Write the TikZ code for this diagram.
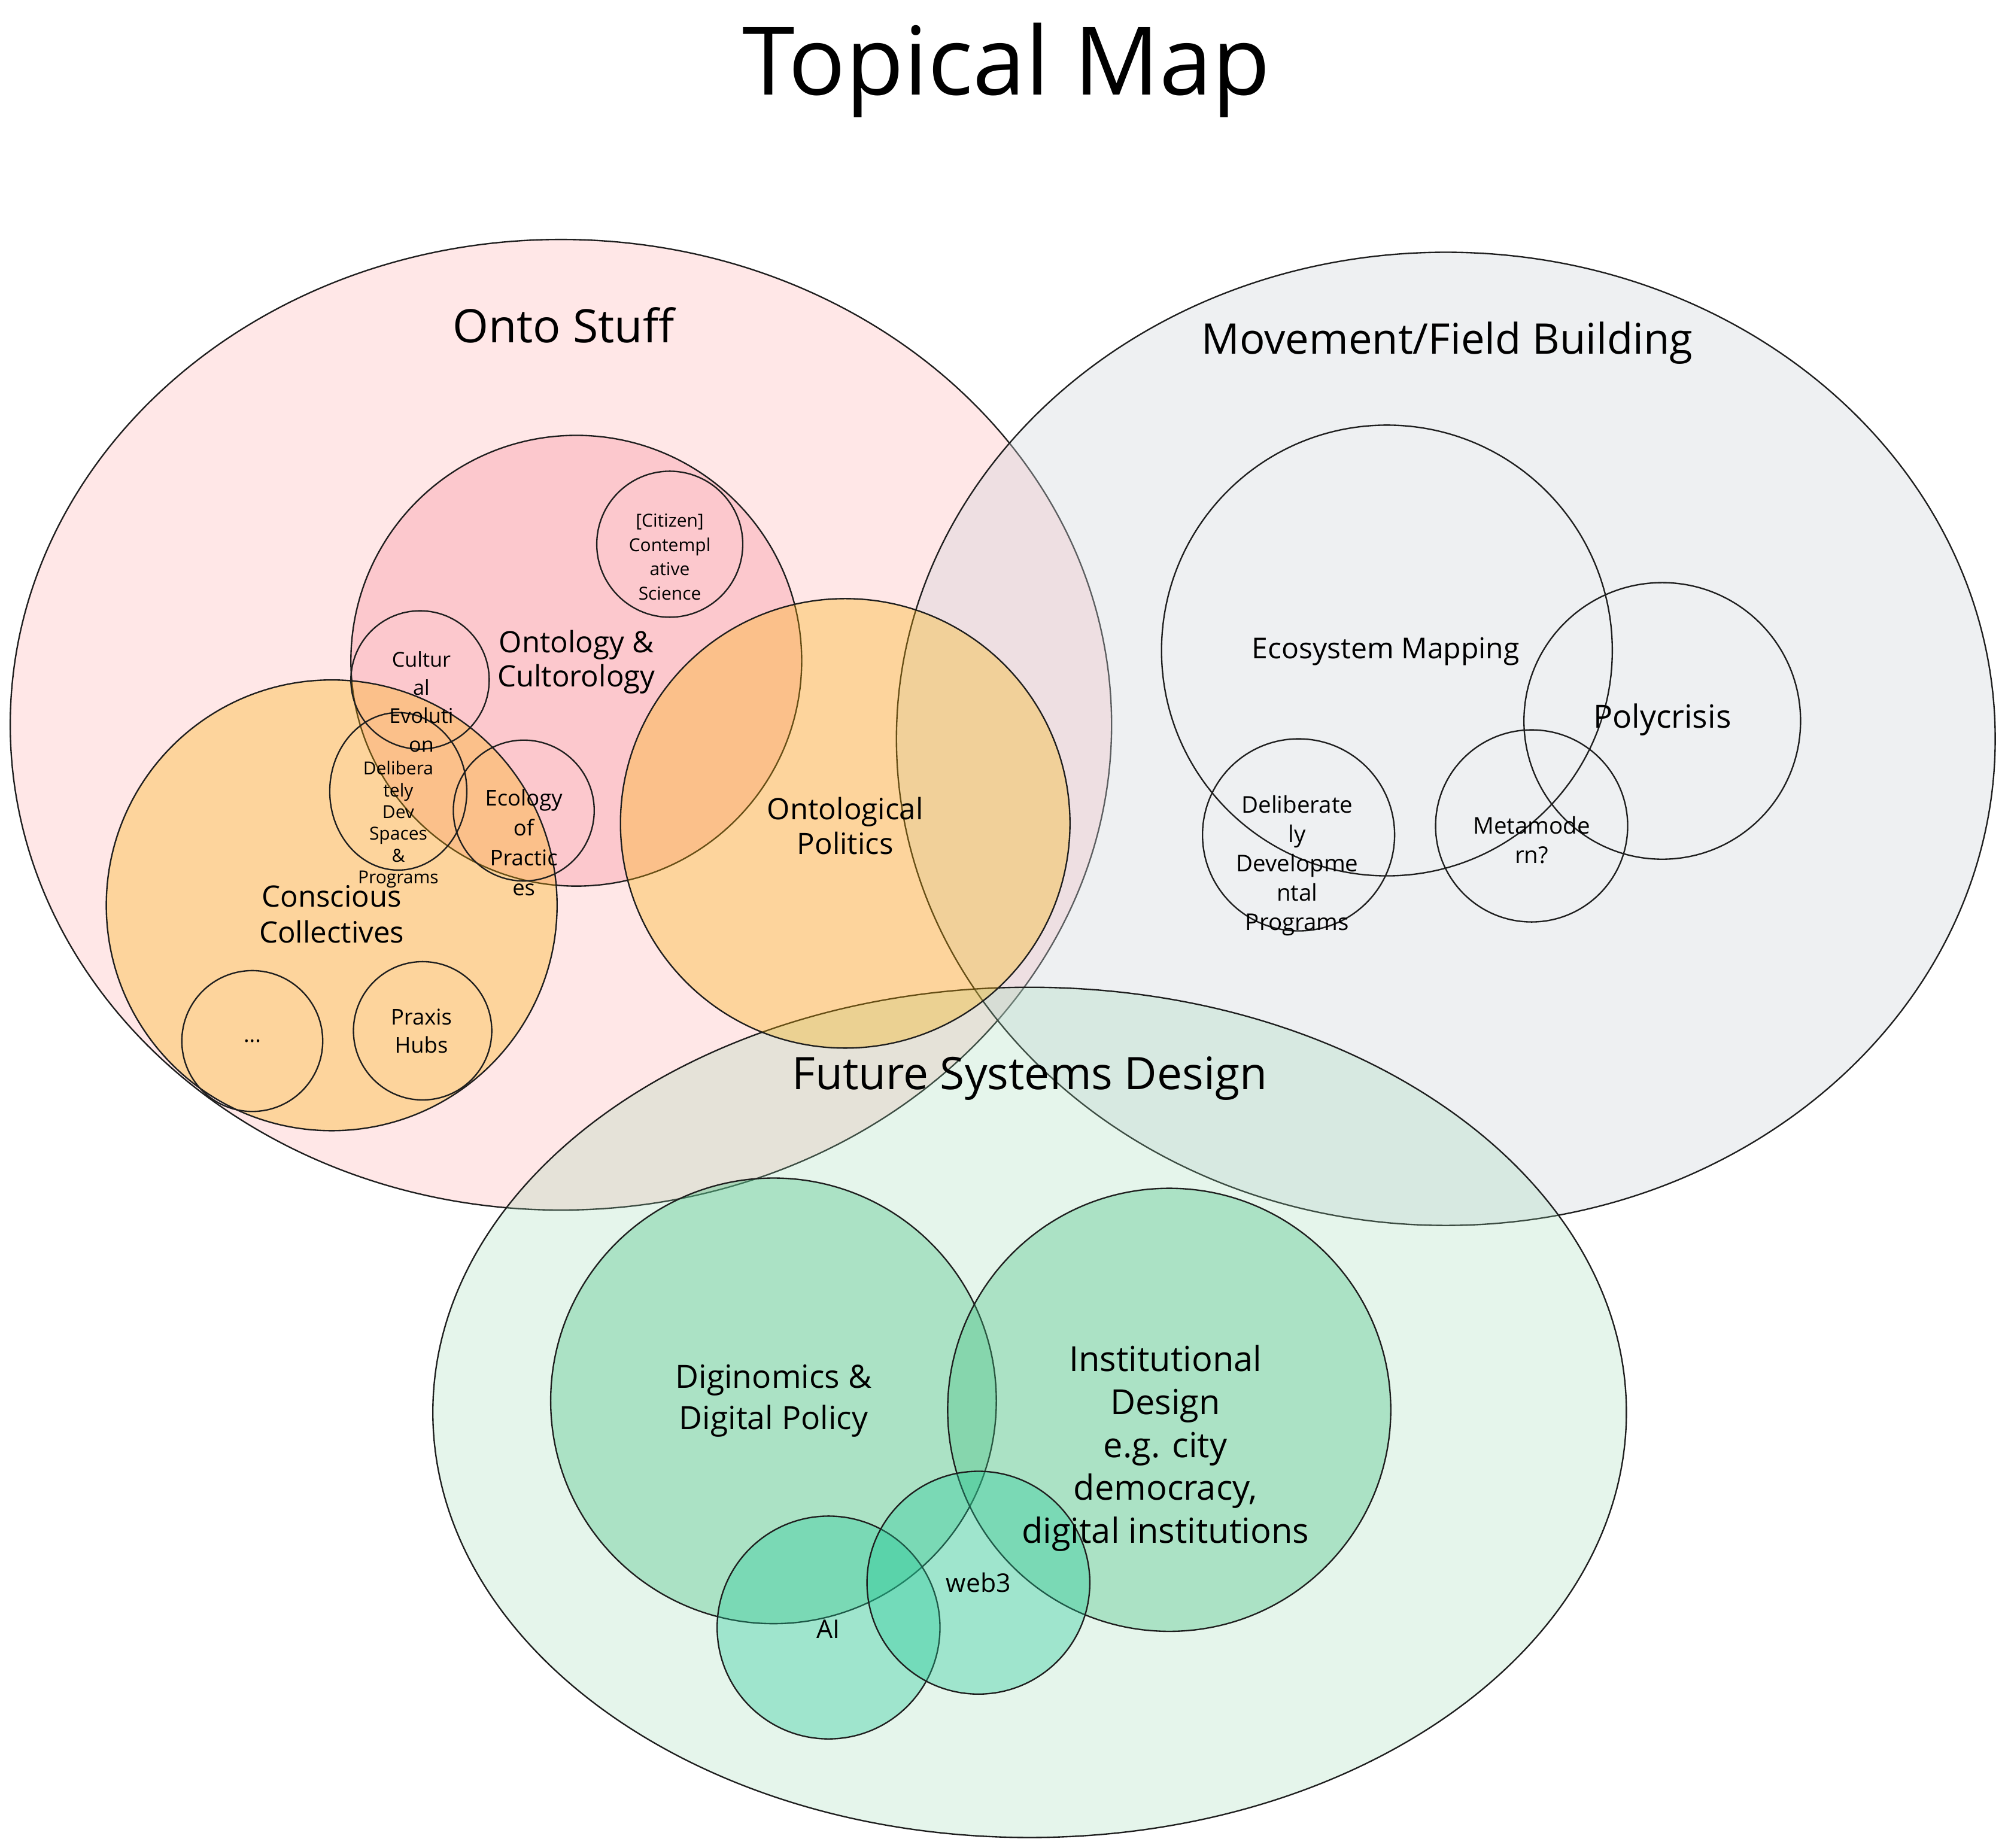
\documentclass[tikz,border=0pt]{standalone}
\usepackage{fontspec}
\setmainfont{Open Sans}
\usepackage{tikz}
\usetikzlibrary{shapes.geometric}
\definecolor{ontopink}{RGB}{255, 201, 201}
\definecolor{deeppink}{RGB}{250, 160, 170}
\definecolor{movegray}{RGB}{206, 212, 218}
\definecolor{futuregreen}{RGB}{150, 215, 175}
\definecolor{innergreen}{RGB}{64, 192, 128}
\definecolor{tealgreen}{RGB}{32, 201, 151}
\definecolor{amber}{RGB}{250, 176, 5}
\definecolor{inkline}{RGB}{30, 30, 30}

\tikzset{
  bubble/.style={circle, draw=inkline, line width=1.1pt, inner sep=0pt},
  oval/.style={ellipse, draw=inkline, line width=1.1pt, inner sep=0pt},
  lbl/.style={align=center, inner sep=0pt, text=black},
}

\begin{document}
\begin{tikzpicture}[x=1pt, y=-1pt]
  \useasboundingbox (0,0) rectangle (1568,1443);

  % the three big areas
  \node[oval, fill=ontopink, fill opacity=.45,
        minimum width=860pt, minimum height=758pt] (onto) at (438,566) {};
  \node[oval, fill=movegray, fill opacity=.35,
        minimum width=858pt, minimum height=760pt] (movement) at (1129,577) {};
  \node[oval, fill=futuregreen, fill opacity=.25,
        minimum width=932pt, minimum height=664pt] (future) at (804,1103) {};

  % onto stuff
  \node[bubble, fill=deeppink, fill opacity=.42, minimum size=352pt] (ontology) at (450,516) {};
  \node[bubble, fill=amber, fill opacity=.33, minimum size=351pt] (politics) at (660,643) {};
  \node[bubble, fill=amber, fill opacity=.33, minimum size=352pt] (collectives) at (259,707) {};
  \node[bubble, minimum size=114pt] (citizen) at (523,425) {};
  \node[bubble, minimum size=108pt] (culturalevo) at (328,531) {};
  \node[oval, minimum width=107pt, minimum height=123pt] (devspaces) at (311,618) {};
  \node[bubble, minimum size=110pt] (ecology) at (409,633) {};
  \node[bubble, minimum size=110pt] (dots) at (197,813) {};
  \node[bubble, minimum size=108pt] (praxis) at (330,805) {};

  % movement / field building
  \node[bubble, minimum size=352pt] (ecosystem) at (1083,508) {};
  \node[bubble, minimum size=216pt] (polycrisis) at (1298,563) {};
  \node[bubble, minimum size=150pt] (delibprog) at (1014,652) {};
  \node[bubble, minimum size=150pt] (metamodern) at (1196,645) {};

  % future systems design
  \node[bubble, fill=innergreen, fill opacity=.35, minimum size=348pt] (diginomics) at (604,1094) {};
  \node[bubble, fill=innergreen, fill opacity=.35, minimum size=346pt] (institutional) at (913,1101) {};
  \node[bubble, fill=tealgreen, fill opacity=.35, minimum size=174pt] (ai) at (647,1271) {};
  \node[bubble, fill=tealgreen, fill opacity=.35, minimum size=174pt] (web3) at (764,1236) {};

  % labels
  \node[lbl, font=\fontsize{74}{84}\selectfont] (title) at (786,55) {Topical Map};
  \node[lbl, font=\fontsize{36}{42}\selectfont] (ontotext) at (440,254) {Onto Stuff};
  \node[lbl, font=\fontsize{33}{38}\selectfont] (movementtext) at (1130,268) {Movement/Field Building};
  \node[lbl, font=\fontsize{35}{40}\selectfont] (futuretext) at (804,842) {Future Systems Design};

  \node[lbl, font=\fontsize{23}{27}\selectfont] (ontologytext) at (450,517) {Ontology \&\\Cultorology};
  \node[lbl, font=\fontsize{14}{19}\selectfont] (citizentext) at (523,435) {[Citizen]\\Contempl\\ative\\Science};
  \node[lbl, font=\fontsize{16}{22}\selectfont] (culturalevotext) at (329,548) {Cultur\\al\\Evoluti\\on};
  \node[lbl, font=\fontsize{14}{17}\selectfont] (devspacestext) at (311,644) {Delibera\\tely\\Dev\\Spaces\\\&\\Programs};
  \node[lbl, font=\fontsize{17}{23.5}\selectfont] (ecologytext) at (409,658) {Ecology\\of\\Practic\\es};
  \node[lbl, font=\fontsize{23}{28}\selectfont] (collectivestext) at (259,714) {Conscious\\Collectives};
  \node[lbl, font=\fontsize{23}{27}\selectfont] (politicstext) at (660,645) {Ontological\\Politics};
  \node[lbl, font=\fontsize{17}{22}\selectfont] (dotstext) at (197,813) {...};
  \node[lbl, font=\fontsize{17}{22}\selectfont] (praxistext) at (329,805) {Praxis\\Hubs};

  \node[lbl, font=\fontsize{22.5}{26}\selectfont] (ecosystemtext) at (1082,509) {Ecosystem Mapping};
  \node[lbl, font=\fontsize{25}{30}\selectfont] (polycrisistext) at (1298,562) {Polycrisis};
  \node[lbl, font=\fontsize{18}{23}\selectfont] (delibprogtext) at (1013,676) {Deliberate\\ly\\Developme\\ntal\\Programs};
  \node[lbl, font=\fontsize{18}{23}\selectfont] (metamoderntext) at (1196,656) {Metamode\\rn?};

  \node[lbl, font=\fontsize{25}{32}\selectfont] (diginomicstext) at (604,1094) {Diginomics \&\\Digital Policy};
  \node[lbl, font=\fontsize{27}{33.5}\selectfont] (institutionaltext) at (910,1131) {Institutional\\Design\\e.g. city\\democracy,\\digital institutions};
  \node[lbl, font=\fontsize{20}{24}\selectfont] (aitext) at (647,1272) {AI};
  \node[lbl, font=\fontsize{20}{24}\selectfont] (web3text) at (764,1236) {web3};
\end{tikzpicture}
\end{document}
